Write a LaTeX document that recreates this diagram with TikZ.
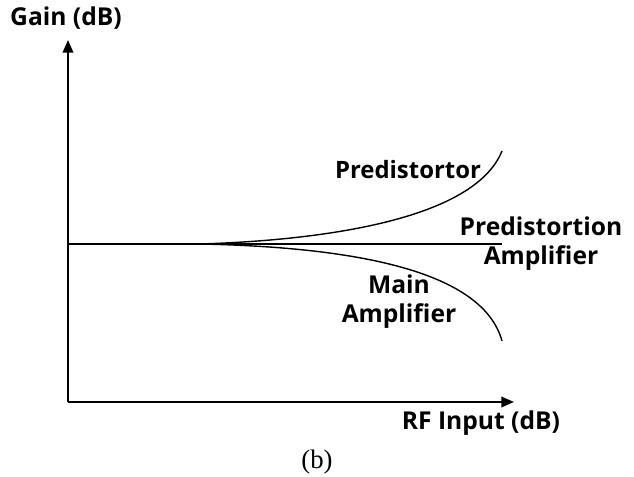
\documentclass[tikz,border=0pt]{standalone}
\usepackage{fontspec}
\setmainfont{Open Sans}
\newfontfamily\capfont{Liberation Serif}
\usetikzlibrary{arrows.meta}

\begin{document}
\begin{tikzpicture}
                [x=0.025cm, y=-0.025cm,
                every node/.style={font=\fontsize{17.5}{20.5}\selectfont\bfseries, inner sep=0pt},
                axis/.style={line width=1.3pt, -{Triangle[length=9pt, width=7.5pt]}},
                curve/.style={line width=1pt}]
                \useasboundingbox (0,0) rectangle (634,477);
                \coordinate (origin) at (68,402);
                \coordinate (ytip) at (68,40);
                \coordinate (xtip) at (514,402);
                \coordinate (split) at (200,244);
                \coordinate (flatend) at (502,244);
                \coordinate (upend) at (502,151);
                \coordinate (downend) at (502,341);
                \draw[axis] (origin) -- (ytip);
                \draw[axis] (origin) -- (xtip);
                \draw[curve] (68,244) -- (flatend);
                \draw[curve] (split) .. controls (330,240) and (475,218) .. (upend);
                \draw[curve] (split) .. controls (345,247) and (482,268) .. (downend);
                \node (gain) at (66,18) {Gain (dB)};
                \node (rfin) at (481,423) {RF Input (dB)};
                \node[font=\fontsize{17}{20}\selectfont\bfseries] (pre) at (408,170) {Predistortor};
                \node[align=center] (pda) at (541,244) {Predistortion\\Amplifier};
                \node[align=center] (main) at (399,302) {Main\\Amplifier};
                \node[font=\capfont\fontsize{19}{22}\selectfont] (cap) at (317,462) {(b)};
            \end{tikzpicture}
\end{document}
